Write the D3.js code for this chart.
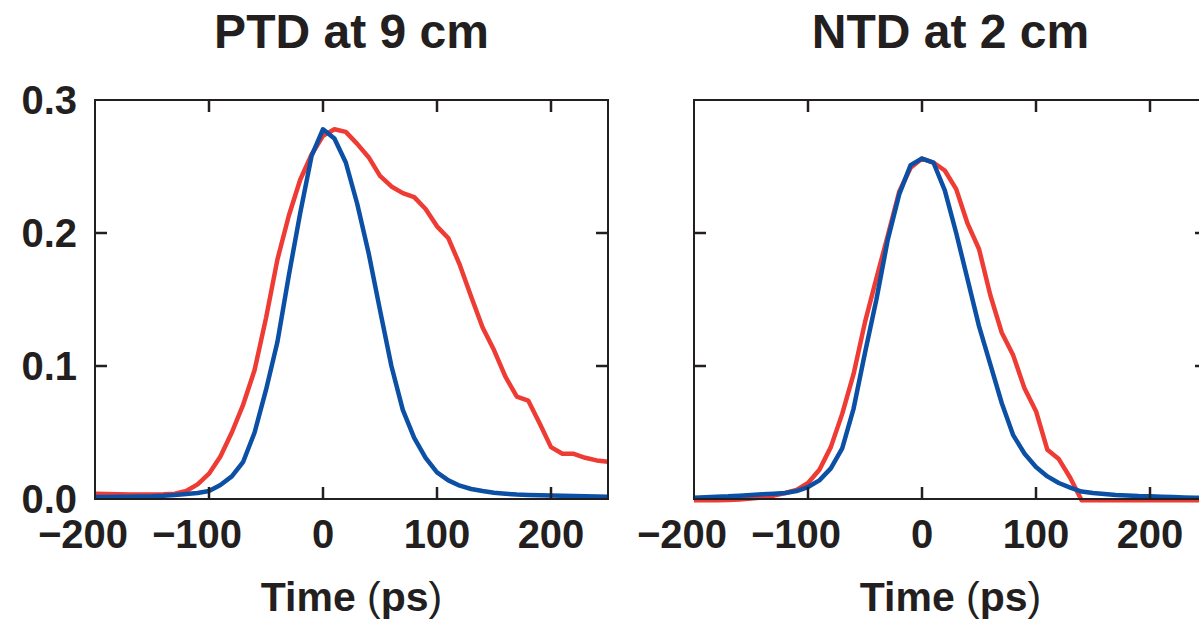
<!DOCTYPE html>
<html>
<head>
<meta charset="utf-8">
<script src="https://cdn.jsdelivr.net/npm/d3@7"></script>
<style>
  body { margin: 0; background: #fff; }
  svg { display: block; font-family: "Liberation Sans", Arial, Helvetica, sans-serif; }
</style>
</head>
<body>
<div id="chart"></div>
<script>
// time axis in ps, sampled every 10 ps
var time_ps = [-200,-190,-180,-170,-160,-150,-140,-130,-120,-110,-100,-90,-80,-70,-60,-50,-40,-30,-20,-10,
               0,10,20,30,40,50,60,70,80,90,100,110,120,130,140,150,160,170,180,190,200,210,220,230,240,250];

// PTD at 9 cm
var ptd_red  = [0.004,0.0038,0.0035,0.0033,0.0033,0.0033,0.0035,0.004,0.006,0.011,0.019,0.032,0.050,0.071,0.097,0.136,0.180,0.213,0.240,0.259,
                0.273,0.278,0.276,0.267,0.257,0.243,0.235,0.230,0.227,0.218,0.205,0.196,0.176,0.152,0.129,0.112,0.092,0.077,0.074,0.057,0.039,0.034,0.034,0.031,0.029,0.028];
var ptd_blue = [0.0015,0.0015,0.0016,0.0017,0.0018,0.002,0.0024,0.003,0.0037,0.0045,0.006,0.0105,0.017,0.028,0.050,0.082,0.118,0.168,0.215,0.258,
                0.278,0.271,0.253,0.222,0.185,0.142,0.100,0.067,0.046,0.031,0.020,0.014,0.010,0.0075,0.006,0.0047,0.004,0.0033,0.003,0.0028,0.0026,0.0024,0.0022,0.002,0.0018,0.0017];

// NTD at 2 cm
var ntd_red  = [-0.001,-0.001,-0.001,-0.0008,-0.0003,0.0003,0.0012,0.0025,0.0045,0.0068,0.012,0.022,0.039,0.064,0.094,0.133,0.166,0.198,0.231,0.249,
                0.256,0.253,0.247,0.233,0.207,0.188,0.153,0.125,0.108,0.083,0.066,0.037,0.030,0.016,-0.001,-0.001,-0.001,-0.001,-0.001,-0.001,-0.001,-0.001,-0.001,-0.001,-0.001,-0.001];
var ntd_blue = [0.001,0.0013,0.0017,0.002,0.0025,0.003,0.0035,0.004,0.0045,0.006,0.009,0.014,0.023,0.038,0.068,0.110,0.150,0.195,0.229,0.251,
                0.256,0.253,0.232,0.200,0.165,0.130,0.101,0.072,0.048,0.034,0.024,0.017,0.012,0.0085,0.0056,0.0045,0.0037,0.003,0.0026,0.0022,0.002,0.0017,0.0015,0.0012,0.001,0.001];

var x_ticks = [-200,-100,0,100,200];
var y_ticks = [0.0,0.1,0.2,0.3];

var panels = [
  {title:"PTD at 9 cm", left:95,  red:ptd_red, blue:ptd_blue, ylabels:true},
  {title:"NTD at 2 cm", left:694, red:ntd_red, blue:ntd_blue, ylabels:false}
];

var W=1199, H=621;
var pw=513, plot_top=100, plot_bottom=499;
var ink="#231f20", col_red="#ee3b33", col_blue="#0b50a5";

var svg = d3.select("#chart").append("svg")
    .attr("width", W)
    .attr("height", H);

panels.forEach(function(p,k){
  var x = d3.scaleLinear().domain([-200,250]).range([p.left, p.left+pw]);
  var y = d3.scaleLinear().domain([0,0.3]).range([plot_bottom, plot_top]);
  var g = svg.append("g");
  var cx = p.left + pw/2;

  g.append("clipPath").attr("id","clip"+k)
    .append("rect")
    .attr("x", p.left).attr("y", plot_top-4)
    .attr("width", pw).attr("height", plot_bottom-plot_top+8);

  var line = d3.line()
      .x(function(d,i){ return x(time_ps[i]); })
      .y(function(d){ return y(d); });

  // title
  g.append("text")
    .attr("x", cx).attr("y", 48)
    .attr("text-anchor","middle")
    .style("font-size","48px").style("font-weight","bold")
    .style("fill", ink)
    .text(p.title);

  // curves
  g.append("path").datum(p.red)
    .attr("d", line)
    .attr("clip-path","url(#clip"+k+")")
    .style("fill","none").style("stroke",col_red).style("stroke-width",4.5)
    .style("stroke-linejoin","round");
  g.append("path").datum(p.blue)
    .attr("d", line)
    .attr("clip-path","url(#clip"+k+")")
    .style("fill","none").style("stroke",col_blue).style("stroke-width",4.5)
    .style("stroke-linejoin","round");

  // frame
  g.append("rect")
    .attr("x", p.left).attr("y", plot_top)
    .attr("width", pw).attr("height", plot_bottom-plot_top)
    .style("fill","none").style("stroke",ink).style("stroke-width",2);

  // inward ticks, all four sides
  var tl = 12;
  x_ticks.slice(1).forEach(function(t){
    g.append("line").attr("x1",x(t)).attr("x2",x(t)).attr("y1",plot_top).attr("y2",plot_top+tl)
      .style("stroke",ink).style("stroke-width",2.5);
    g.append("line").attr("x1",x(t)).attr("x2",x(t)).attr("y1",plot_bottom).attr("y2",plot_bottom-tl)
      .style("stroke",ink).style("stroke-width",2.5);
  });
  y_ticks.slice(1,3).forEach(function(t){
    g.append("line").attr("x1",p.left).attr("x2",p.left+tl).attr("y1",y(t)).attr("y2",y(t))
      .style("stroke",ink).style("stroke-width",2.5);
    g.append("line").attr("x1",p.left+pw).attr("x2",p.left+pw-tl).attr("y1",y(t)).attr("y2",y(t))
      .style("stroke",ink).style("stroke-width",2.5);
  });

  // x tick labels (digits centred on tick, minus hangs left)
  g.selectAll(".xl").data(x_ticks).enter().append("text")
    .attr("x", function(d){ return x(d) - (d<0 ? 12 : 0); })
    .attr("y", 548)
    .attr("text-anchor","middle")
    .style("font-size","40px").style("font-weight","bold")
    .style("fill", ink)
    .text(function(d){ return d<0 ? "\u2212"+Math.abs(d) : d; });

  if(p.ylabels){
    g.selectAll(".yl").data(y_ticks).enter().append("text")
      .attr("x", 77)
      .attr("y", function(d){ return y(d) + 14; })
      .attr("text-anchor","end")
      .style("font-size","40px").style("font-weight","bold")
      .style("fill", ink)
      .text(function(d){ return d.toFixed(1); });
  }

  // axis title
  var t = g.append("text")
    .attr("x", cx).attr("y", 611)
    .attr("text-anchor","middle")
    .style("font-size","41px").style("font-weight","bold")
    .style("fill", ink);
  t.append("tspan").text("Time ");
  t.append("tspan").style("font-weight","normal").text("(");
  t.append("tspan").text("ps");
  t.append("tspan").style("font-weight","normal").text(")");
});
</script>
</body>
</html>
